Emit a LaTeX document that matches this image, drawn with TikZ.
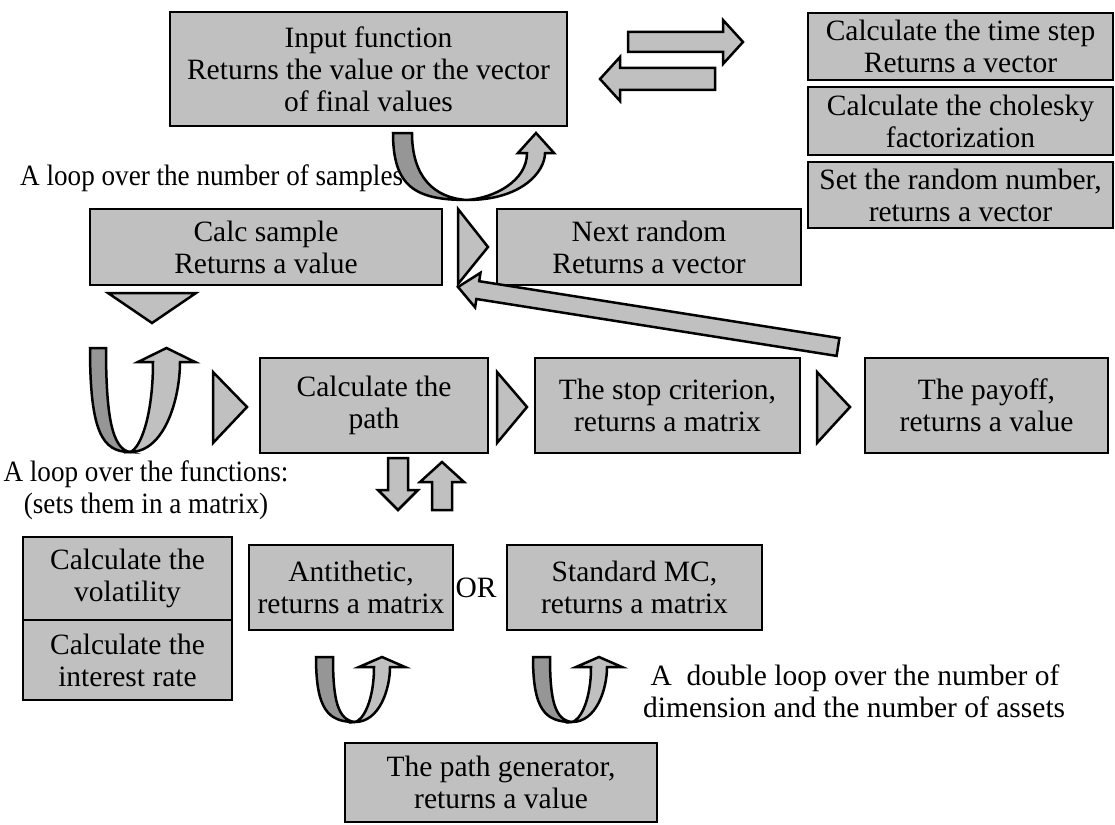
\documentclass[tikz,border=0pt]{standalone}
\usepackage{fontspec}
\setmainfont{Liberation Serif}
\newfontfamily\cond[FakeStretch=0.92]{Liberation Serif}
\definecolor{boxgray}{HTML}{C0C0C0}
\definecolor{leggray}{HTML}{969696}
\newcommand{\fs}{\fontsize{29.5}{32}\selectfont}
% U-turn arrow: #1 x0, #2 y0 (top), #3 dark leg width, #4 xb, #5 yb (bottom point),
% #6 light shaft left x, #7 light shaft right x, #8 head base y, #9 head overhang
\newcommand{\uturn}[9]{%
  \filldraw[shp, fill=leggray] (#1,#2) -- ({#1+#3},#2)
     .. controls ({#1+#3},{#2+0.65*(#5-#2)}) and ({#4-0.45*(#4-#1)},{#5-0.03*(#5-#2)}) .. (#4,#5)
     .. controls ({#1+0.3*(#4-#1)},#5) and (#1,{#2+0.8*(#5-#2)}) .. (#1,#2) -- cycle;
  \filldraw[shp, fill=boxgray] (#4,#5)
     .. controls ({#4+0.7*(#7-#4)},#5) and (#7,{#5-0.6*(#5-#8)}) .. (#7,#8)
     -- ({#7+#9},#8) -- ({(#6+#7)/2},#2) -- ({#6-#9},#8) -- (#6,#8)
     .. controls (#6,{#8+0.6*(#5-#8)}) and ({#4+0.45*(#6-#4)},{#5-0.03*(#5-#2)}) .. (#4,#5) -- cycle;
}
\tikzset{
  box/.style={draw, fill=boxgray, line width=2.5pt, align=center, inner sep=0pt, font=\fs},
  lbl/.style={align=center, inner sep=0pt, font=\fs},
  shp/.style={draw, line width=2.5pt, line join=miter},
}
\begin{document}
\begin{tikzpicture}[x=1pt, y=-1pt]
\useasboundingbox (0,0) rectangle (1115,824);

% boxes
\node[box, minimum width=397, minimum height=114] (input) at (368.5,69)
  {Input function\\Returns the value or the vector\\of final values};
\node[box, minimum width=305, minimum height=67] (timestep) at (960.5,46.5)
  {Calculate the time step\\Returns a vector};
\node[box, minimum width=305, minimum height=68] (cholesky) at (960.5,121)
  {Calculate the cholesky\\factorization};
\node[box, minimum width=305, minimum height=66] (setrandom) at (960.5,195)
  {Set the random number,\\returns a vector};
\node[box, minimum width=352, minimum height=76] (calcsample) at (266,247)
  {Calc sample\\Returns a value};
\node[box, minimum width=304, minimum height=76] (nextrandom) at (649,247)
  {Next random\\Returns a vector};
\node[box, minimum width=228, minimum height=95] (calcpath) at (374,405.5)
  {Calculate the\\path};
\node[box, minimum width=265, minimum height=95] (stop) at (667.5,405.5)
  {The stop criterion,\\returns a matrix};
\node[box, minimum width=243, minimum height=95] (payoff) at (986.5,405.5)
  {The payoff,\\returns a value};
\node[box, minimum width=209, minimum height=83] (vol) at (127.5,578.5)
  {Calculate the\\volatility};
\node[box, minimum width=209, minimum height=80] (interest) at (127.5,660)
  {Calculate the\\interest rate};
\node[box, minimum width=204, minimum height=85] (anti) at (351,587.5)
  {Antithetic,\\returns a matrix};
\node[box, minimum width=255, minimum height=85] (stdmc) at (634.5,587.5)
  {Standard MC,\\returns a matrix};
\node[box, minimum width=312, minimum height=79] (pathgen) at (501,782.5)
  {The path generator,\\returns a value};

% labels
\node[lbl, anchor=west, font=\fs\cond] (loopsamples) at (20,178) {A loop over the number of samples};
\node[lbl, font=\fs\cond] (loopfun) at (146,490) {A loop over the functions:\\(sets them in a matrix)};
\node[lbl] (or) at (476,588) {OR};
\node[lbl, anchor=west, align=left] (dloop) at (643,691)
  {\ A\ \ double loop over the number of\\dimension and the number of assets};

% top block arrows
\filldraw[shp, fill=boxgray] (628,32) -- (723,32) -- (723,20) -- (743,42) -- (723,64) -- (723,52) -- (628,52) -- cycle;
\filldraw[shp, fill=boxgray] (715,68) -- (620,68) -- (620,57) -- (600,79) -- (620,101) -- (620,90) -- (715,90) -- cycle;

% triangles
\filldraw[shp, fill=boxgray] (458,209) -- (488,247) -- (458,284) -- cycle;
\filldraw[shp, fill=boxgray] (108,293) -- (196,293) -- (152,323) -- cycle;
\filldraw[shp, fill=boxgray] (213,372) -- (247,407) -- (213,443) -- cycle;
\filldraw[shp, fill=boxgray] (497,372) -- (527,407) -- (497,443) -- cycle;
\filldraw[shp, fill=boxgray] (817,372) -- (850,407) -- (817,443) -- cycle;

% long arrow back to next random
\filldraw[shp, fill=boxgray] (839.4,338.1) -- (479.2,281.2) -- (480.5,272.8) -- (458,287)
  -- (475.1,307.4) -- (476.4,299.0) -- (836.6,355.9) -- cycle;

% down / up arrows
\filldraw[shp, fill=boxgray] (388,458) -- (408,458) -- (408,490) -- (418,490) -- (398,510) -- (378,490) -- (388,490) -- cycle;
\filldraw[shp, fill=boxgray] (432,510) -- (452,510) -- (452,482) -- (464,482) -- (442,462) -- (420,482) -- (432,482) -- cycle;

% U-turn arrows
\uturn{393}{133}{19}{467}{200}{527}{545}{153}{9}
\uturn{90}{348}{16}{130}{452}{153}{180}{362}{15}
\uturn{316}{657}{17}{355}{722}{374}{390}{667}{15}
\uturn{533}{657}{17}{572}{722}{591}{607}{667}{15}
\end{tikzpicture}
\end{document}
